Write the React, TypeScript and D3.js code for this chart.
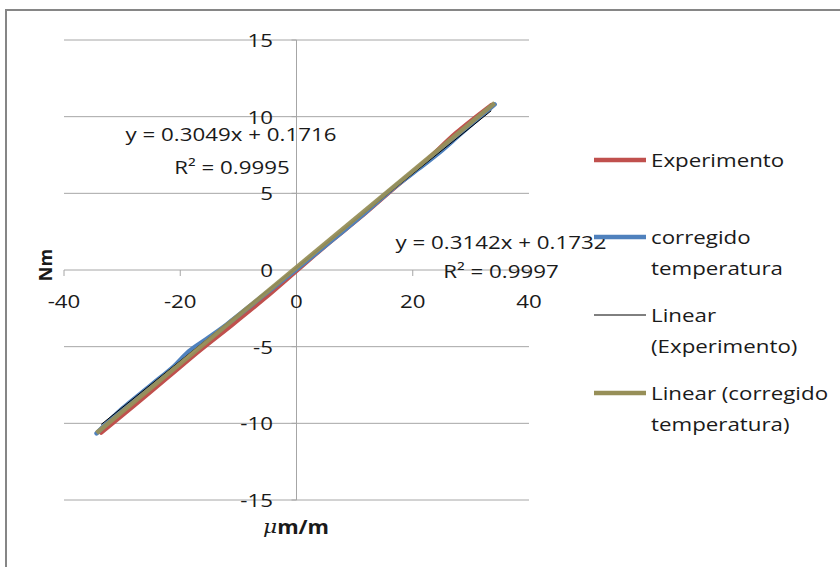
import React from "react";
import * as d3 from "d3";

// Strain (µm/m) vs torque (Nm) readings
const expX = [-33.6, -28, -22, -16.5, -11, -5.5, 0, 5.5, 11, 16.5, 22, 27.5, 33.5];
const expY = [-10.6, -8.85, -6.95, -5.2, -3.55, -1.85, -0.05, 1.75, 3.45, 5.25, 7.0, 8.95, 10.75];

const corX = [-34.4, -30, -25, -21, -18.5, -15.5, -12, -6, 0, 6, 12, 17, 21, 25, 28, 34.1];
const corY = [-10.65, -9.05, -7.5, -6.25, -5.3, -4.5, -3.55, -1.75, 0.05, 1.9, 3.8, 5.45, 6.6, 7.8, 8.8, 10.8];

// Least-squares fits reported on the chart
const fitExp = { slope: 0.3049, intercept: 0.1716, r2: 0.9995 };
const fitCor = { slope: 0.3142, intercept: 0.1732, r2: 0.9997 };

const xTicks = [-40, -20, 0, 20, 40];
const yTicks = [-15, -10, -5, 0, 5, 10, 15];

const legendItems = [
  { lines: ["Experimento"], color: "#C0504D", width: 4.5 },
  { lines: ["corregido", "temperatura"], color: "#4F81BD", width: 4.5 },
  { lines: ["Linear", "(Experimento)"], color: "#000000", width: 1 },
  { lines: ["Linear (corregido", "temperatura)"], color: "#978F58", width: 4.5 },
];

const FONT = "'Open Sans', sans-serif";
const FS = 18;
const SX = 1.24;

function Label(props: {
  x: number;
  y: number;
  anchor?: "start" | "middle" | "end";
  weight?: number | string;
  children: React.ReactNode;
}) {
  const { x, y, anchor = "start", weight = 400, children } = props;
  return (
    <text
      transform={`translate(${x},${y}) scale(${SX},1)`}
      textAnchor={anchor}
      dominantBaseline="central"
      fontFamily={FONT}
      fontSize={FS}
      fontWeight={weight}
      fill="#1a1a1a"
    >
      {children}
    </text>
  );
}

export default function App() {
  const W = 840;
  const H = 567;
  const x = d3.scaleLinear().domain([-40, 40]).range([64, 529]);
  const y = d3.scaleLinear().domain([-15, 15]).range([500, 40]);

  const line = d3
    .line<[number, number]>()
    .x((d) => x(d[0]))
    .y((d) => y(d[1]))
    .curve(d3.curveCatmullRom.alpha(0.5));

  const straight = d3
    .line<[number, number]>()
    .x((d) => x(d[0]))
    .y((d) => y(d[1]));

  const expPts = expX.map((v, i) => [v, expY[i]] as [number, number]);
  const corPts = corX.map((v, i) => [v, corY[i]] as [number, number]);

  const fitLine = (xs: number[], f: { slope: number; intercept: number }) => {
    const [a, b] = d3.extent(xs) as [number, number];
    return straight([
      [a, f.slope * a + f.intercept],
      [b, f.slope * b + f.intercept],
    ]);
  };

  const fmt = (f: { slope: number; intercept: number }) =>
    `y = ${f.slope.toFixed(4)}x + ${f.intercept.toFixed(4)}`;

  const x0 = x(0);
  const y0 = y(0);

  let legendY = 160;
  const legendRows = legendItems.map((item) => {
    const top = legendY;
    legendY += item.lines.length * 31 + (item.lines.length === 1 ? 46 : 16);
    return { ...item, top };
  });

  return (
    <svg
      width={W}
      height={H}
      style={{ position: "absolute", left: 0, top: 0, background: "#fff" }}
    >
      <rect x={6} y={10} width={900} height={700} fill="#fff" stroke="#868686" strokeWidth={2} />

      {/* horizontal gridlines */}
      {yTicks.map((t) => (
        <line key={`g${t}`} x1={x(-40)} x2={x(40)} y1={y(t)} y2={y(t)} stroke="#a6a6a6" strokeWidth={1} />
      ))}

      {/* vertical value axis through x = 0 */}
      <line x1={x0} x2={x0} y1={y(15)} y2={y(-15)} stroke="#a6a6a6" strokeWidth={1} />
      {yTicks.map((t) => (
        <line key={`yt${t}`} x1={x0 - 5} x2={x0} y1={y(t)} y2={y(t)} stroke="#a6a6a6" strokeWidth={1} />
      ))}

      {/* horizontal axis ticks along y = 0 */}
      {xTicks.map((t) => (
        <line key={`xt${t}`} x1={x(t)} x2={x(t)} y1={y0} y2={y0 + 6} stroke="#a6a6a6" strokeWidth={1} />
      ))}

      {/* data series */}
      <path d={line(expPts) ?? ""} fill="none" stroke="#C0504D" strokeWidth={4.5} strokeLinejoin="round" strokeLinecap="round" />
      <path d={line(corPts) ?? ""} fill="none" stroke="#4F81BD" strokeWidth={4.5} strokeLinejoin="round" strokeLinecap="round" />

      {/* linear trendlines */}
      <path d={fitLine(expX, fitExp) ?? ""} fill="none" stroke="#000" strokeWidth={1} />
      <path d={fitLine(corX, fitCor) ?? ""} fill="none" stroke="#978F58" strokeWidth={4.5} opacity={0.95} />

      {/* tick labels */}
      {yTicks.map((t) => (
        <Label key={`yl${t}`} x={273} y={y(t)} anchor="end">
          {String(t)}
        </Label>
      ))}
      {xTicks.map((t) => (
        <Label key={`xl${t}`} x={x(t)} y={301} anchor="middle">
          {String(t)}
        </Label>
      ))}

      {/* axis titles */}
      <text
        transform="translate(45,265) rotate(-90)"
        textAnchor="middle"
        dominantBaseline="central"
        fontFamily={FONT}
        fontSize={18}
        fontWeight={700}
        fill="#1a1a1a"
      >
        Nm
      </text>
      <text
        transform="translate(296,527) scale(1.15,1)"
        textAnchor="middle"
        dominantBaseline="central"
        fontFamily={FONT}
        fontSize={19}
        fontWeight={700}
        fill="#1a1a1a"
      >
        <tspan fontStyle="italic" fontFamily="'DejaVu Serif', serif" fontWeight={400}>μ</tspan>
        <tspan>m/m</tspan>
      </text>

      {/* trendline equations */}
      <Label x={231} y={134} anchor="middle">{fmt(fitExp)}</Label>
      <Label x={232} y={167} anchor="middle">{`R² = ${fitExp.r2.toFixed(4)}`}</Label>
      <Label x={501} y={242} anchor="middle">{fmt(fitCor)}</Label>
      <Label x={501} y={271} anchor="middle">{`R² = ${fitCor.r2.toFixed(4)}`}</Label>

      {/* legend */}
      {legendRows.map((r) => (
        <g key={r.lines.join(" ")}>
          <line x1={594} x2={646} y1={r.top} y2={r.top} stroke={r.color} strokeWidth={r.width} />
          {r.lines.map((ln, i) => (
            <Label key={ln} x={651} y={r.top + i * 31}>
              {ln}
            </Label>
          ))}
        </g>
      ))}
    </svg>
  );
}
